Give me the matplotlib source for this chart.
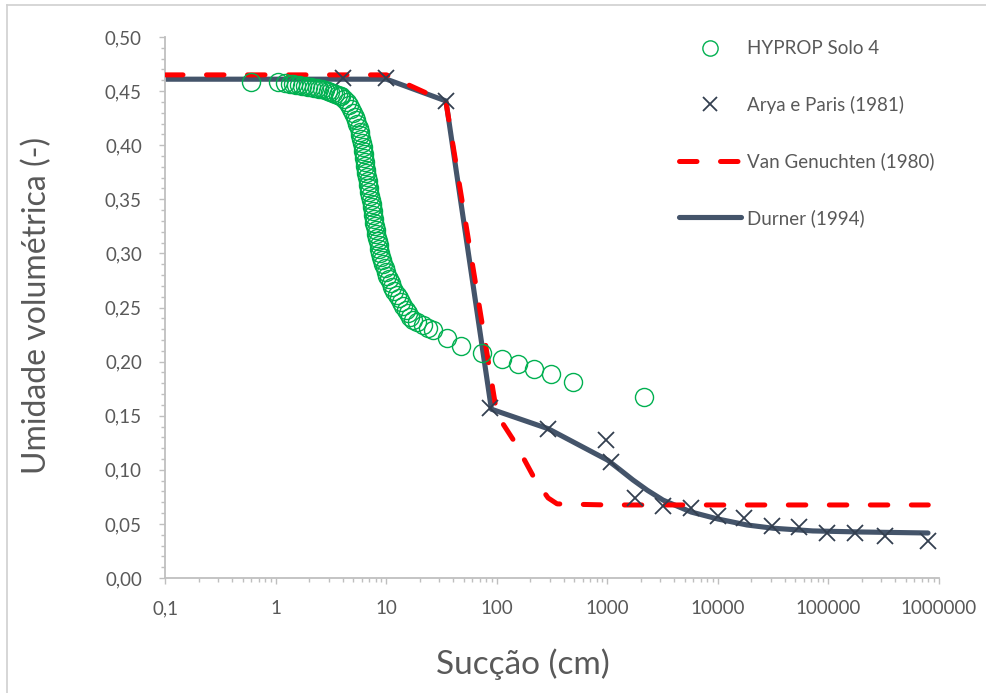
import matplotlib
matplotlib.use("Agg")
import matplotlib.pyplot as plt
from matplotlib.ticker import FixedLocator, MultipleLocator, LogLocator, NullFormatter, FuncFormatter
from matplotlib.lines import Line2D

plt.rcParams['font.family'] = ['Lato', 'DejaVu Sans']

# HYPROP Solo 4 (suction cm, volumetric water content)
hyprop_x = [0.59, 1.04, 1.21, 1.33, 1.42, 1.52, 1.62, 1.72, 1.83, 1.95, 2.07, 2.2, 2.33,
            2.47, 2.62, 2.77, 2.93, 3.1, 3.27, 3.45, 3.63, 3.82, 3.9, 4.1, 4.4, 4.6, 4.8,
            5.0, 5.15, 5.3, 5.45, 5.6, 5.72, 5.8, 5.9, 6.0, 6.07, 6.13, 6.2, 6.27, 6.33,
            6.4, 6.48, 6.56, 6.65, 6.74, 6.82, 6.9, 7.0, 7.12, 7.25, 7.33, 7.42, 7.5, 7.57,
            7.66, 7.76, 7.88, 7.99, 8.1, 8.22, 8.35, 8.48, 8.6, 8.74, 8.9, 9.12, 9.36, 9.62,
            9.9, 10.2, 10.5, 10.9, 11.3, 11.8, 12.4, 13.0, 13.6, 14.2, 14.9, 15.6, 16.4,
            17.5, 19.0, 21.4, 23.8, 26.4, 35.3, 47, 73, 111, 155, 216, 308, 488, 2140]
hyprop_y = [0.458, 0.458, 0.4575, 0.457, 0.4565, 0.456, 0.4555, 0.455, 0.4545, 0.454, 0.4535,
            0.453, 0.4525, 0.452, 0.4515, 0.451, 0.4505, 0.4495, 0.4485, 0.4475, 0.4465,
            0.4458, 0.4455, 0.443, 0.440, 0.437, 0.4335, 0.430, 0.4265, 0.423, 0.4195,
            0.416, 0.4125, 0.409, 0.4055, 0.402, 0.3985, 0.395, 0.3915, 0.388, 0.3845,
            0.381, 0.3775, 0.374, 0.3705, 0.367, 0.3635, 0.360, 0.3565, 0.353, 0.3495,
            0.346, 0.3425, 0.339, 0.3355, 0.332, 0.3285, 0.325, 0.3215, 0.318, 0.3145,
            0.311, 0.3075, 0.304, 0.3005, 0.297, 0.2935, 0.290, 0.2865, 0.283, 0.2795,
            0.276, 0.2725, 0.269, 0.2655, 0.262, 0.2585, 0.255, 0.2515, 0.248, 0.2445,
            0.241, 0.2385, 0.2365, 0.234, 0.2315, 0.229, 0.222, 0.2144, 0.208, 0.2024,
            0.1978, 0.1932, 0.1885, 0.181, 0.1673]

# Arya e Paris (1981)
arya_x = [4, 10, 34.5, 86.5, 290, 968, 1076, 1775, 3180, 5700, 10000, 17200, 30800,
          54000, 97000, 174000, 325000, 795000]
arya_y = [0.462, 0.462, 0.441, 0.157, 0.138, 0.128, 0.107, 0.074, 0.067, 0.065, 0.057,
          0.055, 0.048, 0.047, 0.0416, 0.0416, 0.0388, 0.034]

# Van Genuchten (1980)
vg_x = [0.1, 10, 34.5, 100, 146, 221, 290, 350, 1000, 800000]
vg_y = [0.465, 0.465, 0.44, 0.151, 0.125, 0.091, 0.074, 0.0685, 0.0675, 0.0675]

# Durner (1994)
du_x = [0.1, 10, 34.5, 89, 290, 1000, 1300, 1700, 2300, 3180, 5700, 10000, 18300,
        31500, 72000, 204000, 795000]
du_y = [0.461, 0.461, 0.4409, 0.156, 0.138, 0.109, 0.100, 0.0906, 0.081, 0.072, 0.061,
        0.0545, 0.049, 0.046, 0.0435, 0.0425, 0.0416]

x_ticks = [0.1, 1, 10, 100, 1000, 10000, 100000, 1000000]
x_ticklabels = ['0,1', '1', '10', '100', '1000', '10000', '100000', '1000000']
y_ticks = [0.0, 0.05, 0.10, 0.15, 0.20, 0.25, 0.30, 0.35, 0.40, 0.45, 0.50]

W, H = 987, 693
fig = plt.figure(figsize=(W / 100, H / 100), dpi=100)
ax = fig.add_axes([165.5 / W, 1 - 578 / H, (939 - 165.5) / W, (578 - 37) / H])

text_col = '#595959'
axis_col = '#BFBFBF'

ax.plot(du_x, du_y, color='#44546A', lw=3.7, solid_capstyle='round', zorder=2,
        label='Durner (1994)')
ax.plot(vg_x, vg_y, color='#FF0000', lw=3.6, dashes=(3.5, 4.7), dash_capstyle='round',
        zorder=3, label='Van Genuchten (1980)')
ax.plot(arya_x, arya_y, ls='none', marker='x', ms=11, mew=1.3, color='#333F50', zorder=4,
        label='Arya e Paris (1981)')
ax.plot(hyprop_x, hyprop_y, ls='none', marker='o', ms=13, mfc='none', mec='#00B050',
        mew=1.0, zorder=5, label='HYPROP Solo 4')

ax.set_xscale('log')
ax.set_xlim(0.1, 1e6)
ax.set_ylim(0, 0.5)

ax.xaxis.set_major_locator(FixedLocator(x_ticks))
ax.set_xticklabels(x_ticklabels)
ax.xaxis.set_minor_locator(LogLocator(base=10, subs=range(2, 10), numticks=100))
ax.xaxis.set_minor_formatter(NullFormatter())
ax.yaxis.set_major_locator(FixedLocator(y_ticks))
ax.yaxis.set_major_formatter(FuncFormatter(lambda v, p: f'{v:.2f}'.replace('.', ',')))
ax.yaxis.set_minor_locator(MultipleLocator(0.01))

for s in ['top', 'right']:
    ax.spines[s].set_visible(False)
for s in ['left', 'bottom']:
    ax.spines[s].set_color(axis_col)
    ax.spines[s].set_linewidth(1.3)

ax.tick_params(axis='both', which='major', direction='out', length=4, width=1,
               color=axis_col, labelcolor=text_col, labelsize=13.5)
ax.tick_params(axis='both', which='minor', direction='out', length=3, width=1,
               color=axis_col)
ax.tick_params(axis='x', which='major', pad=12)
ax.tick_params(axis='y', which='major', pad=13)

ax.set_xlabel('Sucção (cm)', fontsize=24, color=text_col, va='center')
ax.xaxis.set_label_coords((523 - 165.5) / 773.5, (578 - 664) / 541)
ax.set_ylabel('Umidade volumétrica (-)', fontsize=23, color=text_col, va='center')
ax.yaxis.set_label_coords((37 - 165.5) / 773.5, (578 - 305) / 541)

handles = [
    Line2D([], [], ls='none', marker='o', ms=11, mfc='none', mec='#00B050', mew=1.0),
    Line2D([], [], ls='none', marker='x', ms=10, mew=1.3, color='#333F50'),
    Line2D([], [], color='#FF0000', lw=3.6, dashes=(3.5, 4.7), dash_capstyle='round'),
    Line2D([], [], color='#44546A', lw=3.7, solid_capstyle='round'),
]
labels = ['HYPROP Solo 4', 'Arya e Paris (1981)', 'Van Genuchten (1980)', 'Durner (1994)']
leg = fig.legend(handles, labels, loc='upper left', bbox_to_anchor=(672 / W, 1 - 33 / H),
                 frameon=False, fontsize=13.5, handlelength=3.3, handletextpad=0.3,
                 labelspacing=2.05, borderaxespad=0)
for t in leg.get_texts():
    t.set_color(text_col)

# chart outer border (left and top visible)
fig.add_artist(Line2D([7 / W, 7 / W], [0, 1 - 5 / H], color='#D0D0D0', lw=1.2))
fig.add_artist(Line2D([7 / W, 1], [1 - 5 / H, 1 - 5 / H], color='#D0D0D0', lw=1.2))

fig.savefig('out.png', dpi=100)
